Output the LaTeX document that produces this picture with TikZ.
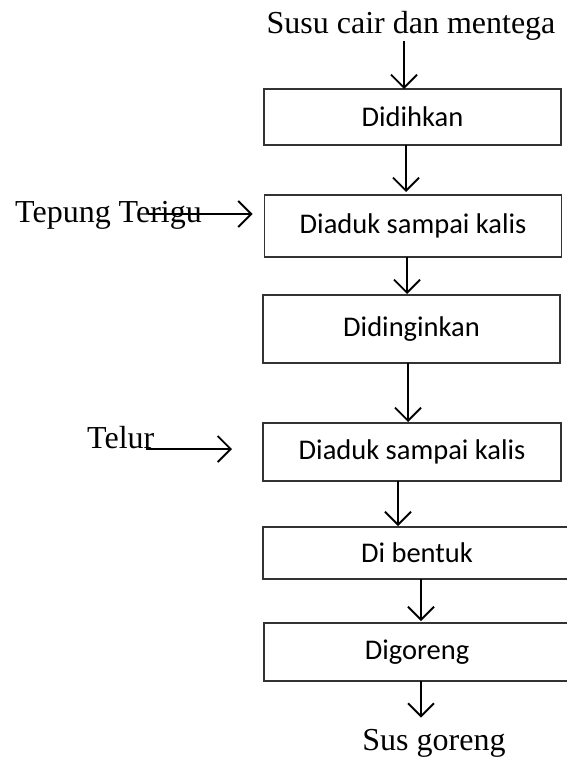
\documentclass[tikz,border=0pt]{standalone}
\usepackage{fontspec}
\setmainfont{Liberation Serif}
\newfontfamily\kotakfont{Carlito}
\usepackage{xcolor}
\usetikzlibrary{arrows.meta}

\begin{document}
\begin{tikzpicture}[x=1pt, y=-1pt,
    proses/.style={draw=black!80, line width=1.6pt, inner sep=0pt, outer sep=0pt,
      font=\kotakfont\fontsize{28.5}{34}\selectfont},
    bahan/.style={inner sep=0pt, font=\fontsize{32}{38}\selectfont},
    panah/.style={line width=1.9pt, -{Straight Barb[length=13pt, width=26pt, line width=1.9pt]}}]
    \useasboundingbox (0,0) rectangle (566,760);
    \node[bahan, anchor=base] (susu) at (411,34) {Susu cair dan mentega};
    \node[proses, minimum width=297pt, minimum height=56pt] (didih) at (412.5,117) {Didihkan};
    \node[proses, minimum width=297pt, minimum height=62pt] (aduk1) at (413,226) {Diaduk sampai kalis};
    \node[proses, minimum width=297pt, minimum height=68pt] (dingin) at (411.5,329) {Didinginkan};
    \node[proses, minimum width=298pt, minimum height=58pt] (aduk2) at (412,452) {Diaduk sampai kalis};
    \node[proses, minimum width=308pt, minimum height=52pt] (bentuk) at (417,553) {Di bentuk};
    \node[proses, minimum width=306pt, minimum height=58pt] (goreng) at (417,652) {Digoreng};
    \node[bahan, anchor=base west] (tepung) at (15,222) {Tepung Terigu};
    \node[bahan, anchor=base west] (telur) at (87,448) {Telur};
    \node[bahan, anchor=base] (sus) at (434,750) {Sus goreng};
    \coordinate (masuk1) at ([xshift=-12pt,yshift=12pt]aduk1.west);
    \coordinate (masuk2) at ([xshift=-31pt,yshift=3pt]aduk2.west);
    \draw[panah] ([xshift=-7pt]susu.south) -- ([xshift=-7pt]susu.south |- didih.north);
    \draw[panah] ([xshift=-6.5pt]didih.south) -- ([xshift=-6.5pt,yshift=3pt]didih.south |- aduk1.north);
    \draw[panah] ([xshift=-6pt]aduk1.south) -- ([xshift=-6pt,yshift=1pt]aduk1.south |- dingin.north);
    \draw[panah] ([xshift=-3.5pt]dingin.south) -- ([xshift=-3.5pt,yshift=1pt]dingin.south |- aduk2.north);
    \draw[panah] ([xshift=-14pt]aduk2.south) -- ([xshift=-14pt,yshift=1pt]aduk2.south |- bentuk.north);
    \draw[panah] ([xshift=4pt]bentuk.south) -- ([xshift=4pt,yshift=2pt]bentuk.south |- goreng.north);
    \draw[panah] ([xshift=4pt]goreng.south) -- ([xshift=4pt,yshift=11pt]goreng.south |- sus.north);
    \draw[panah] ([xshift=-54pt]tepung.east |- masuk1) -- (masuk1);
    \draw[panah] ([xshift=-8pt]telur.east |- masuk2) -- (masuk2);
  \end{tikzpicture}
\end{document}
